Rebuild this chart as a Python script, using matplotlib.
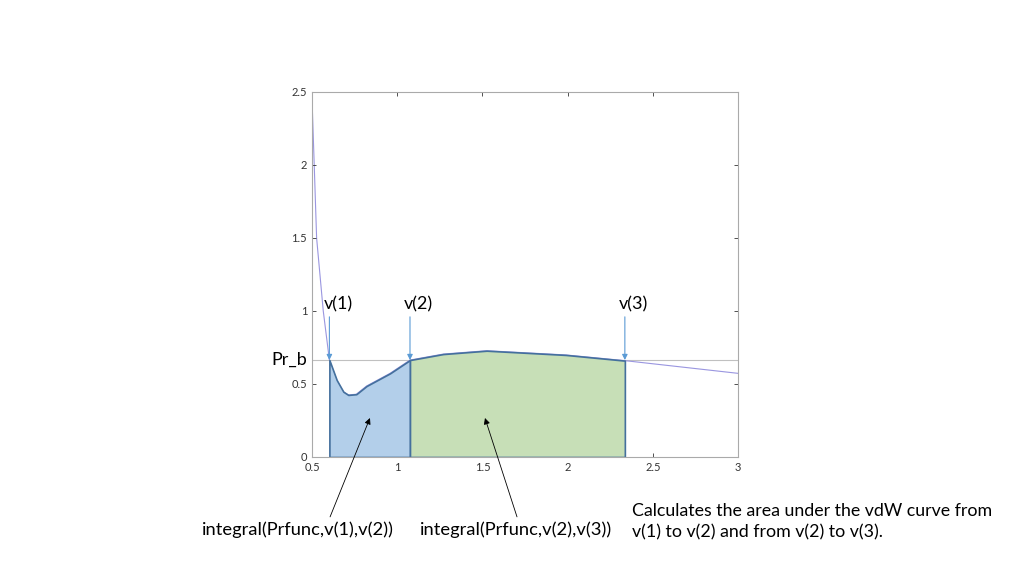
import numpy as np
import matplotlib
matplotlib.use("Agg")
import matplotlib.pyplot as plt

plt.rcParams['font.family'] = ['Lato', 'DejaVu Sans']

# vdW reduced-pressure curve
vol = [0.5, 0.513, 0.527, 0.566, 0.602, 0.645, 0.684, 0.713, 0.76, 0.82, 0.958,
       1.075, 1.27, 1.525, 1.99, 2.336, 3.0]
pres = [2.45, 2.0, 1.5, 1.0, 0.664, 0.527, 0.447, 0.425, 0.43, 0.486, 0.573,
        0.664, 0.705, 0.728, 0.699, 0.66, 0.573]

pr_b = 0.664
v_roots = [0.602, 1.075, 2.336]
v_names = ["v(1)", "v(2)", "v(3)"]

xticks = [0.5, 1, 1.5, 2, 2.5, 3]
yticks = [0, 0.5, 1, 1.5, 2, 2.5]

vol = np.array(vol)
pres = np.array(pres)

fig = plt.figure(figsize=(10.24, 5.76), dpi=100)
ax = fig.add_axes([0.3047, 0.2066, 0.416, 0.6337])

ax.axhline(pr_b, color='#c0c0c0', lw=0.8, zorder=1)
ax.plot(vol, pres, color='#9a96e0', lw=0.8, zorder=1)

# shaded areas under the curve
m1 = (vol >= v_roots[0]) & (vol <= v_roots[1])
m2 = (vol >= v_roots[1]) & (vol <= v_roots[2])
ax.fill_between(vol[m1], 0, pres[m1], facecolor='#b3cfea', edgecolor='#44709d', lw=1.2, zorder=2)
ax.fill_between(vol[m2], 0, pres[m2], facecolor='#c7dfb7', edgecolor='#44709d', lw=1.2, zorder=2)

# v(1..3) markers
for v, name in zip(v_roots, v_names):
    ax.annotate("", xy=(v, pr_b), xytext=(v, 0.96),
                arrowprops=dict(arrowstyle='-|>', color='#5b9bd5', lw=0.8,
                                mutation_scale=8, shrinkA=0, shrinkB=0))
    ax.text(v + 0.05, 0.99, name, fontsize=13, ha='center', va='bottom')

ax.text(0.47, pr_b, "Pr_b", fontsize=13, ha='right', va='center')

# arrows to the areas
ax.annotate("", xy=(0.84, 0.267), xytext=(0.606, -0.41), annotation_clip=False,
            arrowprops=dict(arrowstyle='-|>', color='black', lw=0.6,
                            mutation_scale=9, shrinkA=0, shrinkB=0))
ax.annotate("", xy=(1.515, 0.267), xytext=(1.703, -0.41), annotation_clip=False,
            arrowprops=dict(arrowstyle='-|>', color='black', lw=0.6,
                            mutation_scale=9, shrinkA=0, shrinkB=0))

ax.set_xlim(0.5, 3)
ax.set_ylim(0, 2.5)
ax.set_xticks(xticks)
ax.set_yticks(yticks)
ax.set_xticklabels(["0.5", "1", "1.5", "2", "2.5", "3"])
ax.set_yticklabels(["0", "0.5", "1", "1.5", "2", "2.5"])
ax.tick_params(direction='in', length=3, width=0.6, labelsize=8, colors='#333333',
               top=True, right=True)
for s in ax.spines.values():
    s.set_color('#aaaaaa')
    s.set_linewidth(0.8)

fig.text(0.291, 0.080, "integral(Prfunc,v(1),v(2))", fontsize=13.2, ha='center', va='center')
fig.text(0.504, 0.080, "integral(Prfunc,v(2),v(3))", fontsize=13.2, ha='center', va='center')
fig.text(0.617, 0.094, "Calculates the area under the vdW curve from\nv(1) to v(2) and from v(2) to v(3).",
         fontsize=12.8, ha='left', va='center', linespacing=1.4)

fig.savefig("out.png", dpi=100)
